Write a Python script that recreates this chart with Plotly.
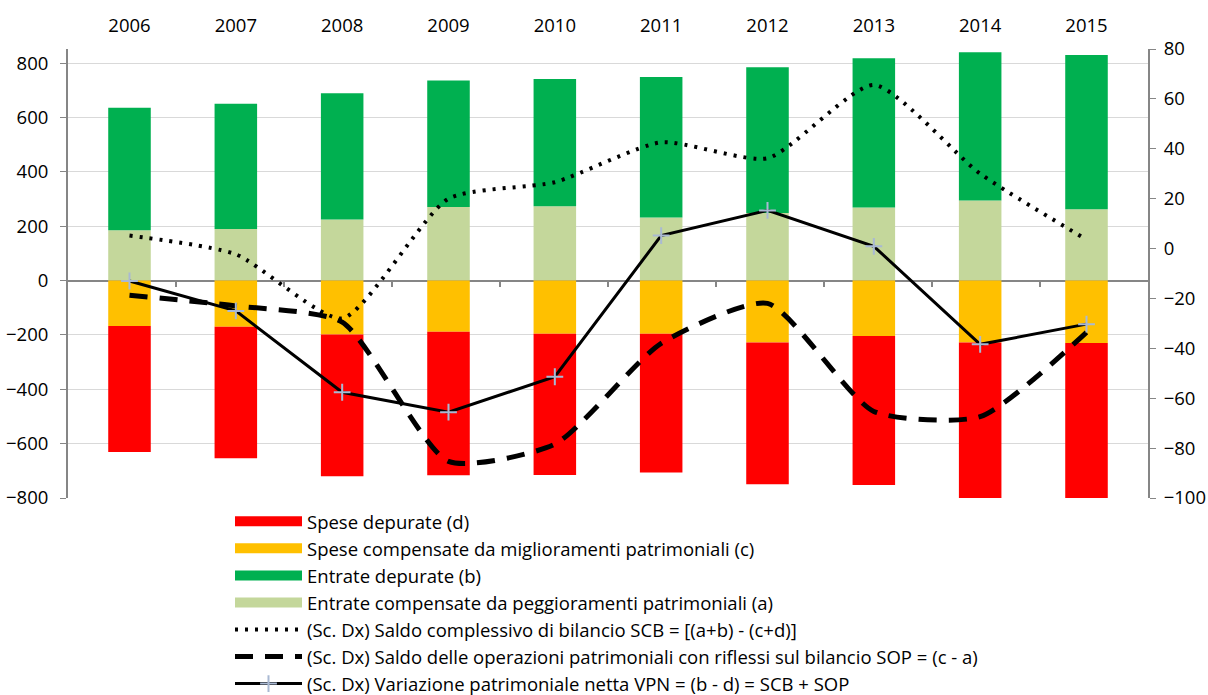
import plotly.graph_objects as go

years = ["2006", "2007", "2008", "2009", "2010", "2011", "2012", "2013", "2014", "2015"]

# Bars (left axis)
entrate_comp_a = [185, 190, 225, 271, 273, 232, 249, 269, 295, 262]
entrate_dep_b = [451, 461, 464, 465, 469, 517, 536, 549, 545, 568]
spese_comp_c = [-167, -170, -198, -188, -196, -196, -228, -204, -228, -230]
spese_dep_d = [-464, -484, -522, -528, -519, -510, -521, -548, -582, -580]

# Lines (right axis)
scb = [5.2, -2.3, -28.0, 20.0, 26.6, 42.6, 36.2, 65.6, 30.0, 3.6]
sop = [-18.7, -23.0, -29.5, -85.3, -78.4, -38.0, -22.0, -65.3, -67.4, -33.6]
vpn = [-13.0, -25.0, -57.6, -65.6, -51.4, 5.2, 15.3, 0.9, -38.4, -30.3]

names = {
    "d": "Spese depurate (d)",
    "c": "Spese compensate da miglioramenti patrimoniali (c)",
    "b": "Entrate depurate (b)",
    "a": "Entrate compensate da peggioramenti patrimoniali (a)",
    "scb": "(Sc. Dx) Saldo complessivo di bilancio SCB = [(a+b) - (c+d)]",
    "sop": "(Sc. Dx) Saldo delle operazioni patrimoniali con riflessi sul bilancio SOP = (c - a)",
    "vpn": "(Sc. Dx) Variazione patrimoniale netta VPN = (b - d) = SCB + SOP",
}
colors = {"a": "#C4D79B", "b": "#00B050", "c": "#FFC000", "d": "#FF0000"}

fig = go.Figure()

# bars in stacking order
for key, vals in [("a", entrate_comp_a), ("c", spese_comp_c), ("b", entrate_dep_b), ("d", spese_dep_d)]:
    fig.add_trace(go.Bar(x=years, y=vals, name=names[key], marker_color=colors[key],
                         marker_line_width=0, width=0.4, showlegend=False, yaxis="y"))

# legend entries for bars (in legend order)
for key in ["d", "c", "b", "a"]:
    fig.add_trace(go.Scatter(x=[None], y=[None], mode="lines", name=names[key],
                             line=dict(color=colors[key], width=12), legendgroup=key))

fig.add_trace(go.Scatter(x=years, y=scb, name=names["scb"], yaxis="y2", mode="lines",
                         line=dict(color="black", width=4, dash="3px,7px", shape="spline", smoothing=0.6),
                         legendgroup="scb"))
fig.add_trace(go.Scatter(x=years, y=sop, name=names["sop"], yaxis="y2", mode="lines",
                         line=dict(color="black", width=5, dash="18px,12px", shape="spline", smoothing=0.6),
                         legendgroup="sop"))
fig.add_trace(go.Scatter(x=years, y=vpn, name=names["vpn"], yaxis="y2", mode="lines+markers",
                         line=dict(color="black", width=3),
                         marker=dict(symbol="cross-thin", size=12, line=dict(color="#A9B9D3", width=2)),
                         legendgroup="vpn"))

# helper axis for the small tick marks on the zero line
fig.add_trace(go.Scatter(x=[None], y=[None], xaxis="x2", showlegend=False, hoverinfo="skip"))

font_family = "'Open Sans', sans-serif"
fs = 18.5
ymin, ymax = -800, 852

fig.update_layout(
    width=1208, height=695,
    barmode="relative",
    plot_bgcolor="white", paper_bgcolor="white",
    margin=dict(l=68, r=60, t=48.5, b=196.5, autoexpand=False),
    font=dict(family=font_family, size=fs, color="#000000"),
    xaxis=dict(side="top", type="category", showline=False, ticks="", showgrid=False,
               ticklabelstandoff=12, tickfont=dict(size=fs), automargin=False),
    xaxis2=dict(overlaying="x", anchor="free", position=(0 - ymin) / (ymax - ymin), side="bottom",
                range=[-0.5, 9.5], tickvals=[0.5, 1.5, 2.5, 3.5, 4.5, 5.5, 6.5, 7.5, 8.5],
                showticklabels=False, ticks="outside", ticklen=5, tickcolor="#868686", tickwidth=1.5,
                showline=False, showgrid=False, zeroline=False, automargin=False),
    yaxis=dict(range=[ymin, ymax], tickvals=[-800, -600, -400, -200, 0, 200, 400, 600, 800],
               showgrid=True, gridcolor="#D9D9D9", gridwidth=1,
               zeroline=True, zerolinecolor="#868686", zerolinewidth=2,
               showline=True, linecolor="#868686", linewidth=2, ticks="outside", ticklen=6,
               tickcolor="#868686", tickfont=dict(size=fs), ticklabelstandoff=8, automargin=False),
    yaxis2=dict(range=[-100, 80], dtick=20, overlaying="y", side="right", showgrid=False,
                zeroline=False, showline=True, linecolor="#868686", linewidth=2,
                ticks="outside", ticklen=6, tickcolor="#868686", tickfont=dict(size=fs),
                ticklabelstandoff=4, automargin=False),
    legend=dict(x=0.150, y=-0.0106, xanchor="left", yanchor="top", orientation="v",
                traceorder="normal", tracegroupgap=2.5, font=dict(size=fs),
                itemwidth=67, bgcolor="rgba(0,0,0,0)"),
    bargap=0.6,
)

# remove the default page margin so the 1208x695 figure fills the window exactly
fig.write_html("out.html", config={"displayModeBar": False},
               post_script="document.body.style.margin='0';document.body.style.overflow='hidden';")
